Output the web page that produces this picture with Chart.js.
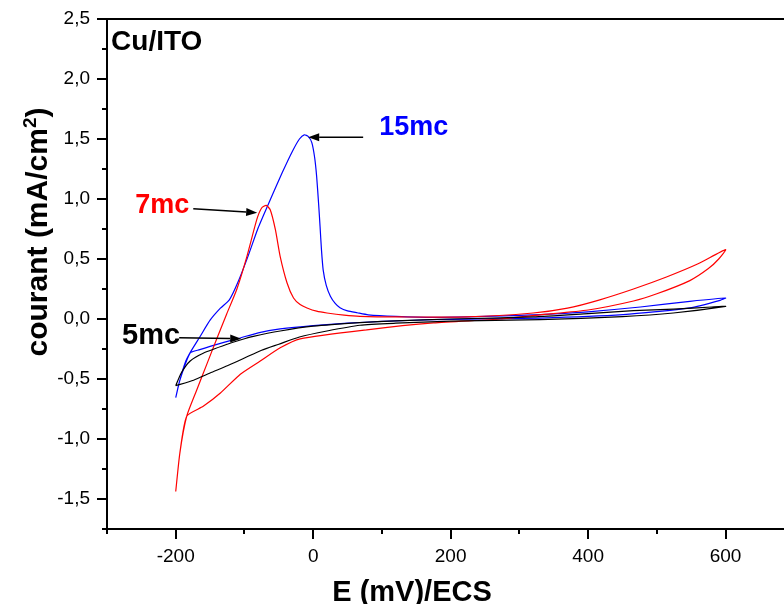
<!DOCTYPE html>
<html>
<head>
<meta charset="utf-8">
<script src="https://cdn.jsdelivr.net/npm/chart.js@4.4.1/dist/chart.umd.min.js"></script>
<style>
  body { margin: 0; background: #fff; }
</style>
</head>
<body>
<canvas id="chart" width="784" height="604"></canvas>
<script>
// values: E in mV/ECS, current in mA/cm2
// each curve = forward sweep (-200 -> 600) then return sweep (600 -> -200)

// 15mc (blue)
let e15Fwd = [-200, -194, -186, -179, -165, -150, -135, -122, -110, -95, -80, -62, -45, -30, -20, -13, -7, -2, 2, 5, 8, 10, 12, 14.5, 19, 25, 32, 39, 50, 64, 80, 120, 175, 250, 330, 400, 476, 548, 600];
let i15Fwd = [-0.656, -0.51, -0.36, -0.28, -0.15, -0.01, 0.09, 0.16, 0.3, 0.52, 0.76, 1.0, 1.22, 1.4, 1.5, 1.535, 1.52, 1.47, 1.35, 1.19, 0.95, 0.77, 0.58, 0.41, 0.28, 0.19, 0.13, 0.094, 0.068, 0.052, 0.035, 0.022, 0.014, 0.022, 0.036, 0.06, 0.1, 0.147, 0.175];
let e15Back = [592, 548, 451, 330, 175, 100, 50, 0, -48, -80, -106, -130, -150, -165, -179, -194, -200];
let i15Back = [0.155, 0.092, 0.036, 0.008, -0.006, -0.02, -0.035, -0.055, -0.083, -0.115, -0.158, -0.195, -0.228, -0.255, -0.283, -0.51, -0.656];

// 7mc (red)
let e7Fwd = [-200, -194, -184, -170, -155, -140, -126, -111, -96.5, -82, -75, -68.4, -62.5, -55, -48, -38, -28.6, -19, -9, 5, 20, 45, 68, 127, 224, 320, 370, 417, 466, 514, 560, 600];
let i7Fwd = [-1.437, -1.117, -0.81, -0.6, -0.38, -0.16, 0.04, 0.25, 0.52, 0.83, 0.925, 0.947, 0.91, 0.744, 0.52, 0.3, 0.175, 0.12, 0.092, 0.065, 0.05, 0.032, 0.022, 0.017, 0.017, 0.05, 0.09, 0.16, 0.25, 0.35, 0.46, 0.578];
let e7Back = [590, 575, 548, 500, 466, 400, 330, 272, 175, 78, -19, -48, -77, -106, -135, -160, -184, -194, -200];
let i7Back = [0.5, 0.42, 0.32, 0.21, 0.15, 0.075, 0.035, 0.0, -0.033, -0.09, -0.165, -0.24, -0.35, -0.46, -0.617, -0.728, -0.81, -1.117, -1.437];

// 5mc (black)
let e5Fwd = [-200, -174, -150, -125, -100, -75, -50, -20, 20, 68, 120, 200, 330, 450, 524, 600];
let i5Fwd = [-0.556, -0.51, -0.45, -0.39, -0.325, -0.26, -0.21, -0.15, -0.1, -0.052, -0.035, -0.018, -0.006, 0.02, 0.05, 0.105];
let e5Back = [580, 524, 466, 400, 320, 200, 120, 68, 0, -48, -87, -106, -125, -160, -179, -192, -200];
let i5Back = [0.1, 0.083, 0.069, 0.045, 0.017, 0.0, -0.015, -0.03, -0.06, -0.1, -0.145, -0.175, -0.21, -0.285, -0.35, -0.45, -0.556];

// axis ticks
let xMajor = [-200, 0, 200, 400, 600];
let xMinor = [-300, -100, 100, 300, 500];
let yMajor = [-1.5, -1, -0.5, 0, 0.5, 1, 1.5, 2, 2.5];
let yMinor = [-1.75, -1.25, -0.75, -0.25, 0.25, 0.75, 1.25, 1.75, 2.25];

// text labels and arrows, placed in data coordinates
let notes = [
  { text: "Cu/ITO", x: -294, y: 2.31, color: "#000000", size: 28 },
  { text: "15mc", x: 96, y: 1.594, color: "#0000ff", size: 27 },
  { text: "7mc", x: -259, y: 0.944, color: "#ff0000", size: 27 },
  { text: "5mc", x: -278, y: -0.139, color: "#000000", size: 29 },
];
let arrows = [
  { x1: 72.7, y1: 1.515, x2: -7.3, y2: 1.515 },
  { x1: -174.5, y1: 0.919, x2: -81.5, y2: 0.886 },
  { x1: -195, y1: -0.156, x2: -104.7, y2: -0.164 },
];

function toPoints(es, is) {
  return es.map((e, k) => ({ x: e, y: is[k] }));
}

function curve(color, es, is) {
  return {
    data: toPoints(es, is),
    showLine: true,
    borderColor: color,
    backgroundColor: color,
    borderWidth: 1.2,
    pointRadius: 0,
    tension: 0.2,
  };
}

const fontName = '"Liberation Sans", Arial, sans-serif';

const extras = {
  id: "extras",
  afterDraw(chart) {
    let ctx = chart.ctx;
    let xs = chart.scales.x;
    let ys = chart.scales.y;
    let area = chart.chartArea;
    ctx.save();
    ctx.strokeStyle = "#000";
    ctx.lineWidth = 2;
    ctx.beginPath();
    // top frame line
    ctx.moveTo(area.left - 1, area.top);
    ctx.lineTo(area.right, area.top);
    // x tick marks
    xMajor.concat(xMinor).forEach((v) => {
      let px = Math.round(xs.getPixelForValue(v));
      let len = xMajor.includes(v) ? 10 : 5;
      ctx.moveTo(px, area.bottom);
      ctx.lineTo(px, area.bottom + len);
    });
    // y tick marks
    yMajor.concat(yMinor).forEach((v) => {
      let py = Math.round(ys.getPixelForValue(v));
      let len = yMajor.includes(v) ? 10 : 5;
      ctx.moveTo(area.left, py);
      ctx.lineTo(area.left - len, py);
    });
    ctx.stroke();

    // arrows
    ctx.strokeStyle = "#000";
    ctx.fillStyle = "#000";
    ctx.lineWidth = 1.5;
    arrows.forEach((a) => {
      let x1 = xs.getPixelForValue(a.x1);
      let y1 = ys.getPixelForValue(a.y1);
      let x2 = xs.getPixelForValue(a.x2);
      let y2 = ys.getPixelForValue(a.y2);
      let ang = Math.atan2(y2 - y1, x2 - x1);
      let hl = 11;
      let hw = 4;
      let bx = x2 - hl * Math.cos(ang);
      let by = y2 - hl * Math.sin(ang);
      ctx.beginPath();
      ctx.moveTo(x1, y1);
      ctx.lineTo(bx, by);
      ctx.stroke();
      ctx.beginPath();
      ctx.moveTo(x2, y2);
      ctx.lineTo(bx + hw * Math.sin(ang), by - hw * Math.cos(ang));
      ctx.lineTo(bx - hw * Math.sin(ang), by + hw * Math.cos(ang));
      ctx.closePath();
      ctx.fill();
    });

    // notes
    ctx.textAlign = "left";
    ctx.textBaseline = "middle";
    notes.forEach((n) => {
      ctx.font = "bold " + n.size + "px " + fontName;
      ctx.fillStyle = n.color;
      ctx.fillText(n.text, xs.getPixelForValue(n.x), ys.getPixelForValue(n.y));
    });

    // axis titles
    ctx.fillStyle = "#000";
    ctx.font = "bold 29px " + fontName;
    ctx.textAlign = "center";
    ctx.textBaseline = "alphabetic";
    ctx.fillText("E (mV)/ECS", 412, 601);

    ctx.translate(47, 232);
    ctx.rotate(-Math.PI / 2);
    let mainFont = "bold 30px " + fontName;
    let supFont = "bold 19px " + fontName;
    ctx.font = mainFont;
    let w1 = ctx.measureText("courant (mA/cm").width;
    let w3 = ctx.measureText(")").width;
    ctx.font = supFont;
    let w2 = ctx.measureText("2").width;
    let start = -(w1 + w2 + w3) / 2;
    ctx.textAlign = "left";
    ctx.font = mainFont;
    ctx.fillText("courant (mA/cm", start, 0);
    ctx.font = supFont;
    ctx.fillText("2", start + w1, -11);
    ctx.font = mainFont;
    ctx.fillText(")", start + w1 + w2, 0);
    ctx.restore();
  },
};

const ctx = document.getElementById("chart");
let myChart = new Chart(ctx, {
  type: "scatter",
  data: {
    datasets: [
      curve("#000000", e5Fwd.concat(e5Back), i5Fwd.concat(i5Back)),
      curve("#ff0000", e7Fwd.concat(e7Back), i7Fwd.concat(i7Back)),
      curve("#0000ff", e15Fwd.concat(e15Back), i15Fwd.concat(i15Back)),
    ],
  },
  options: {
    responsive: false,
    animation: false,
    layout: { padding: { top: 19, right: 0, left: 0, bottom: 0 } },
    plugins: {
      legend: { display: false },
      tooltip: { enabled: false },
    },
    scales: {
      x: {
        type: "linear",
        min: -300,
        max: 685,
        afterBuildTicks: (scale) => {
          scale.ticks = xMajor.concat(xMinor).sort((a, b) => a - b).map((v) => ({ value: v }));
        },
        afterFit: (scale) => {
          scale.height = 75;
          scale.paddingLeft = 0;
          scale.paddingRight = 0;
        },
        grid: { display: false, drawTicks: false },
        border: { display: true, color: "#000", width: 2 },
        ticks: {
          autoSkip: false,
          maxRotation: 0,
          padding: 16,
          color: "#000",
          font: { family: fontName, size: 19 },
          callback: (v) => (xMajor.includes(v) ? String(v) : ""),
        },
      },
      y: {
        type: "linear",
        min: -1.75,
        max: 2.5,
        afterBuildTicks: (scale) => {
          scale.ticks = yMajor.concat(yMinor).sort((a, b) => a - b).map((v) => ({ value: v }));
        },
        afterFit: (scale) => {
          scale.width = 107;
          scale.paddingTop = 0;
          scale.paddingBottom = 0;
        },
        grid: { display: false, drawTicks: false },
        border: { display: true, color: "#000", width: 2 },
        ticks: {
          autoSkip: false,
          padding: 17,
          color: "#000",
          font: { family: fontName, size: 19 },
          callback: (v) => (yMajor.includes(v) ? v.toFixed(1).replace(".", ",") : ""),
        },
      },
    },
  },
  plugins: [extras],
});
</script>
</body>
</html>
